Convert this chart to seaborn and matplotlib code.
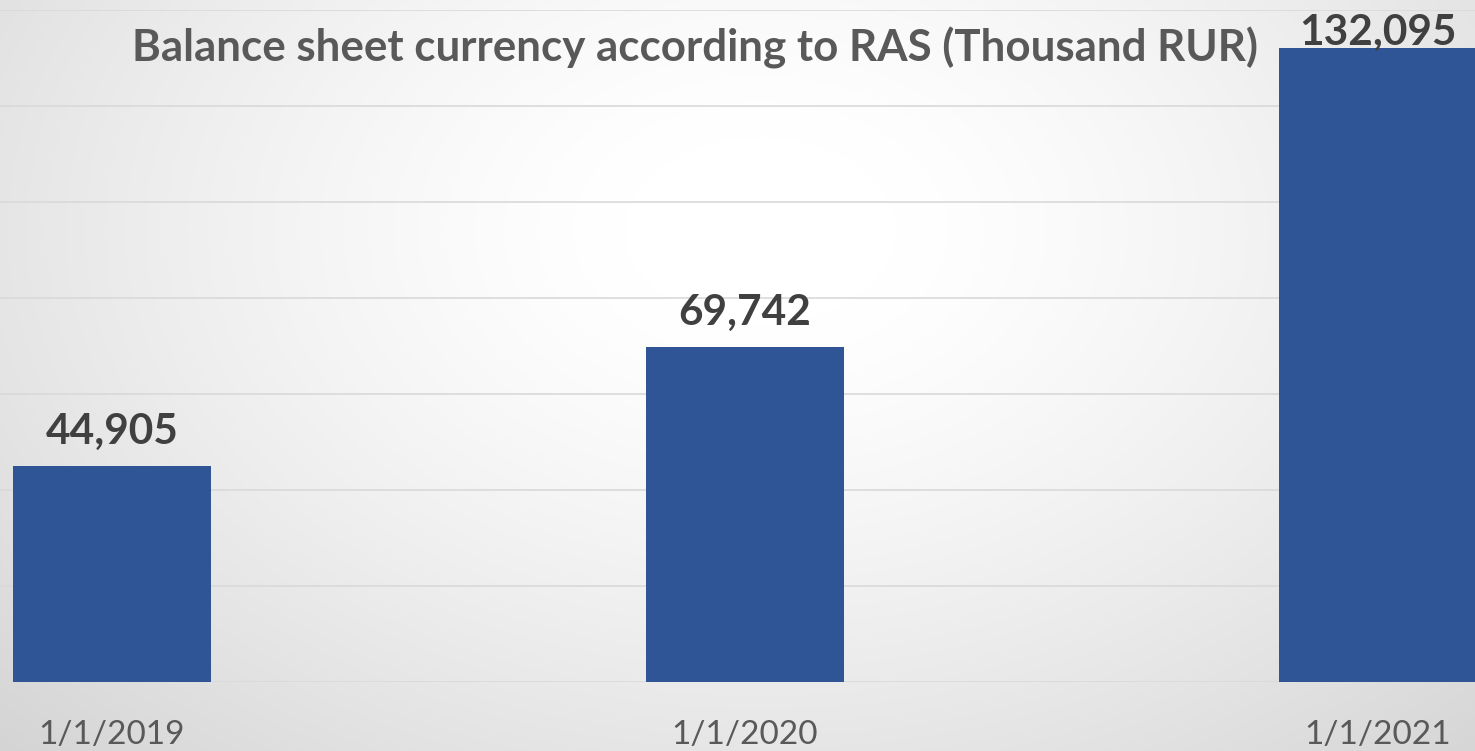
import matplotlib
matplotlib.use("Agg")
import matplotlib.pyplot as plt
import numpy as np
import pandas as pd
import seaborn as sns

# Données
dates = ["1/1/2019", "1/1/2020", "1/1/2021"]
valeurs = [44905, 69742, 132095]
titre = "Balance sheet currency according to RAS (Thousand RUR)"

sns.set_theme(style="white")
plt.rcParams["font.family"] = ["Lato", "DejaVu Sans"]

W, H = 1475, 751
fig = plt.figure(figsize=(W / 100, H / 100), dpi=100)

# Fond en dégradé radial (blanc au centre, gris sur les bords)
bg = fig.add_axes([0, 0, 1, 1], zorder=0)
yy, xx = np.mgrid[0:H, 0:W]
r = np.sqrt(((xx - 760) / 900) ** 2 + ((yy - 230) / 620) ** 2)
g = np.clip(1 - 0.16 * np.clip(r - 0.15, 0, None) ** 1.3, 0.82, 1)
bg.imshow(np.dstack([g, g, g]), aspect="auto", extent=[0, W, H, 0])
bg.set_axis_off()

ax = fig.add_axes([0, 69 / H, 1, 672 / H], zorder=1)
ax.patch.set_alpha(0)

df = pd.DataFrame({"date": dates, "valeur": valeurs})
sns.barplot(data=df, x="date", y="valeur", color="#2F5597", saturation=1,
            width=0.314, linewidth=0, ax=ax, zorder=3)

ax.set_xlim(-112 / 633, 2 + 97 / 633)
ax.set_ylim(0, 140000)
ax.set_yticks(np.arange(0, 140001, 20000))
ax.yaxis.grid(True, color="#d9d9d9", linewidth=1.2, zorder=0)
ax.set_axisbelow(True)
for s in ax.spines.values():
    s.set_visible(False)
ax.tick_params(axis="y", left=False, labelleft=False)
ax.tick_params(axis="x", bottom=False, pad=21, labelsize=24, labelcolor="#595959")
ax.set_xlabel("")
ax.set_ylabel("")

labels = ax.bar_label(ax.containers[0], fmt="{:,.0f}", padding=11,
                      fontsize=30.5, fontweight="bold", color="#404040")
labels[-1].xyann = (0, -3)

fig.text(695 / W, 1 - 48 / H, titre, ha="center", va="center",
         fontsize=31.6, fontweight="bold", color="#595959")

fig.savefig("out.png", dpi=100)
